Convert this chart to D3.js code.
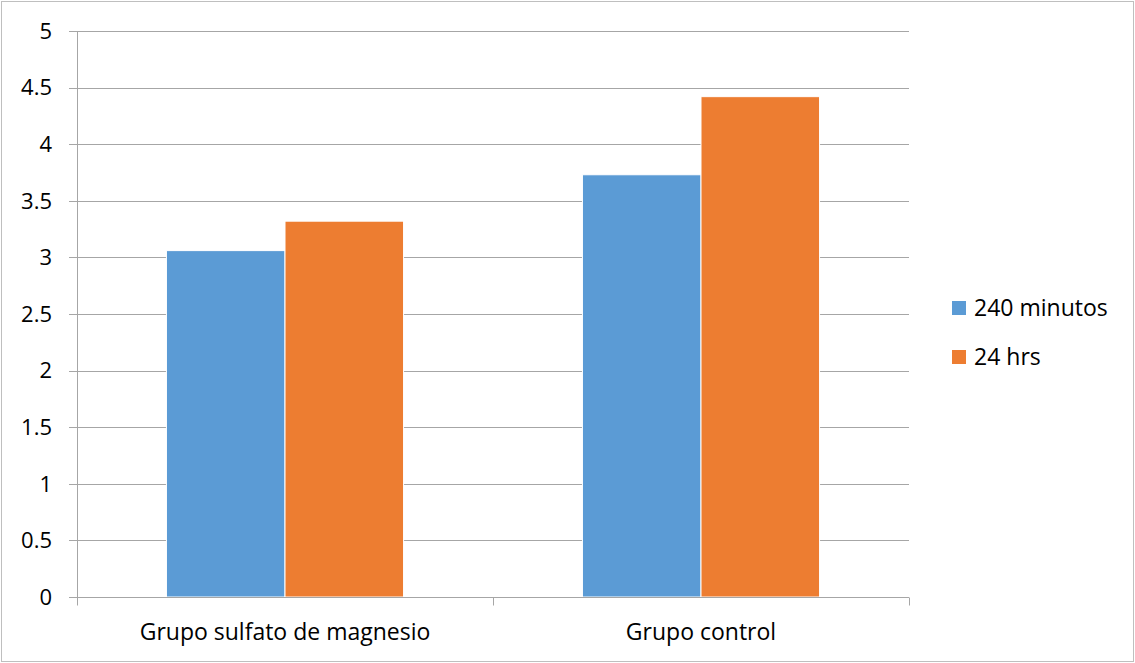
<!DOCTYPE html>
<html>
<head>
<meta charset="utf-8">
<script src="https://cdn.jsdelivr.net/npm/d3@7"></script>
<style>
  html, body { margin: 0; padding: 0; background: #fff; }
  svg { display: block; }
  text { font-family: "Open Sans", Lato, sans-serif; fill: #000; }
</style>
</head>
<body>
<svg id="chart" width="1135" height="663"></svg>
<script>
// Chart data
const categories = ["Grupo sulfato de magnesio", "Grupo control"];
const seriesNames = ["240 minutos", "24 hrs"];
const values240min = [3.06, 3.73];
const values24hrs = [3.32, 4.42];
const yTicks = [0, 0.5, 1, 1.5, 2, 2.5, 3, 3.5, 4, 4.5, 5];
const colors = ["#5B9BD5", "#ED7D31"];

const svg = d3.select("#chart");
const W = 1135, H = 663;
const margin = { left: 77, right: 226, top: 31, bottom: 66 };
const plotW = W - margin.left - margin.right;
const plotH = H - margin.top - margin.bottom;

// outer frame
svg.append("rect")
  .attr("x", 1.5).attr("y", 1.5)
  .attr("width", W - 3).attr("height", H - 3)
  .attr("fill", "#fff").attr("stroke", "#bfbfbf").attr("stroke-width", 1);

const g = svg.append("g").attr("transform", `translate(${margin.left},${margin.top})`);

const y = d3.scaleLinear().domain([0, 5]).range([plotH, 0]);
const x0 = d3.scaleBand().domain(categories).range([0, plotW]).paddingInner(0.43).paddingOuter(0.215);
const x1 = d3.scaleBand().domain(seriesNames).range([0, x0.bandwidth()]).padding(0);

// horizontal gridlines
g.append("g").selectAll("line").data(yTicks).join("line")
  .attr("x1", -8).attr("x2", plotW)
  .attr("y1", d => Math.round(y(d)) + 0.5).attr("y2", d => Math.round(y(d)) + 0.5)
  .attr("stroke", "#a6a6a6").attr("stroke-width", 1);

// y tick labels
g.append("g").selectAll("text").data(yTicks).join("text")
  .attr("x", -25).attr("y", d => y(d))
  .attr("dy", "0.35em")
  .attr("text-anchor", "end")
  .style("font-size", "22px")
  .text(d => d);

// y axis line
g.append("line")
  .attr("x1", 0.5).attr("x2", 0.5)
  .attr("y1", 0).attr("y2", plotH + 8)
  .attr("stroke", "#a6a6a6");

// bars
const rows = categories.map((c, i) => ({ cat: c, vals: [values240min[i], values24hrs[i]] }));
const groups = g.append("g").selectAll("g").data(rows).join("g")
  .attr("transform", d => `translate(${x0(d.cat)},0)`);
groups.selectAll("rect").data(d => d.vals.map((v, j) => ({ name: seriesNames[j], v, j })))
  .join("rect")
  .attr("x", d => x1(d.name))
  .attr("y", d => y(d.v))
  .attr("width", x1.bandwidth())
  .attr("height", d => plotH - y(d.v))
  .attr("fill", d => colors[d.j])
  .attr("stroke", "#fff").attr("stroke-width", 1);

// x axis baseline and category boundary ticks
const xBase = Math.round(y(0)) + 0.5;
g.append("line")
  .attr("x1", 0).attr("x2", plotW)
  .attr("y1", xBase).attr("y2", xBase)
  .attr("stroke", "#a6a6a6");
const boundaries = [0, plotW / 2, plotW];
g.append("g").selectAll("line").data(boundaries).join("line")
  .attr("x1", d => Math.round(d) + 0.5).attr("x2", d => Math.round(d) + 0.5)
  .attr("y1", xBase).attr("y2", xBase + 8)
  .attr("stroke", "#a6a6a6");

// category labels
g.append("g").selectAll("text").data(categories).join("text")
  .attr("x", d => x0(d) + x0.bandwidth() / 2)
  .attr("y", plotH + 43)
  .attr("text-anchor", "middle")
  .style("font-size", "23px")
  .text(d => d);

// legend
const legend = svg.append("g").attr("transform", "translate(952,300)");
seriesNames.forEach((name, i) => {
  const row = legend.append("g").attr("transform", `translate(0,${i * 49})`);
  row.append("rect").attr("x", 0).attr("y", 1).attr("width", 14).attr("height", 14).attr("fill", colors[i]);
  row.append("text").attr("x", 22).attr("y", 8).attr("dy", "0.35em")
    .style("font-size", "23px").text(name);
});
</script>
</body>
</html>
